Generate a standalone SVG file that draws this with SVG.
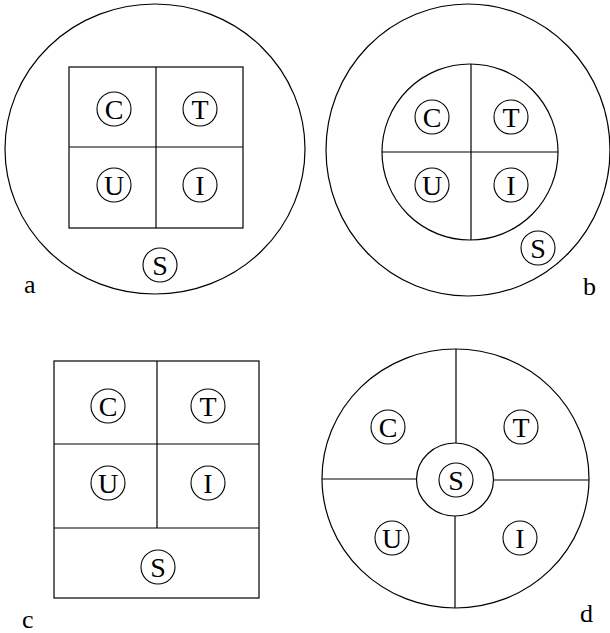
<svg xmlns="http://www.w3.org/2000/svg" width="610" height="633" viewBox="0 0 610 633">
<style>
.o{fill:none;stroke:#000;stroke-width:1.2}
.n{fill:#fff;stroke:#000;stroke-width:1.1}
.t{text-anchor:middle}
</style>
<rect width="610" height="633" fill="#fff"/>
<g font-family="Liberation Serif, DejaVu Serif, serif" font-size="28" fill="#000">
<g id="panel-a">
<ellipse class="o" cx="155" cy="149" rx="150" ry="145"/>
<rect class="o" x="69" y="67" width="174" height="161"/>
<g class="connectors"><line class="o" x1="156" y1="67" x2="156" y2="228"/><line class="o" x1="69" y1="147" x2="243" y2="147"/></g>
<g id="a-C"><circle class="n" cx="114" cy="109" r="17"/><text class="t" x="114" y="119">C</text></g>
<g id="a-T"><circle class="n" cx="200" cy="109" r="17"/><text class="t" x="200" y="119">T</text></g>
<g id="a-U"><circle class="n" cx="114" cy="185" r="17"/><text class="t" x="114" y="195">U</text></g>
<g id="a-I"><circle class="n" cx="200" cy="185" r="17"/><text class="t" x="200" y="195">I</text></g>
<g id="a-S"><circle class="n" cx="160" cy="265" r="17"/><text class="t" x="160" y="275">S</text></g>
<text x="24" y="293" font-size="26">a</text>
</g>
<g id="panel-b">
<ellipse class="o" cx="468" cy="150" rx="142" ry="146"/>
<circle class="o" cx="470" cy="152" r="88"/>
<g class="connectors"><line class="o" x1="471" y1="64" x2="471" y2="240"/><line class="o" x1="382" y1="152" x2="558" y2="152"/></g>
<g id="b-C"><circle class="n" cx="432" cy="117" r="17"/><text class="t" x="432" y="127">C</text></g>
<g id="b-T"><circle class="n" cx="511" cy="117" r="17"/><text class="t" x="511" y="127">T</text></g>
<g id="b-U"><circle class="n" cx="432" cy="185" r="17"/><text class="t" x="432" y="195">U</text></g>
<g id="b-I"><circle class="n" cx="511" cy="185" r="17"/><text class="t" x="511" y="195">I</text></g>
<g id="b-S"><circle class="n" cx="538" cy="248" r="17"/><text class="t" x="538" y="258">S</text></g>
<text x="583" y="295" font-size="26">b</text>
</g>
<g id="panel-c">
<rect class="o" x="54" y="361" width="205" height="237"/>
<g class="connectors"><line class="o" x1="157" y1="361" x2="157" y2="528"/><line class="o" x1="54" y1="444" x2="259" y2="444"/><line class="o" x1="54" y1="528" x2="259" y2="528"/></g>
<g id="c-C"><circle class="n" cx="108" cy="406" r="17"/><text class="t" x="108" y="416">C</text></g>
<g id="c-T"><circle class="n" cx="208" cy="406" r="17"/><text class="t" x="208" y="416">T</text></g>
<g id="c-U"><circle class="n" cx="108" cy="483" r="17"/><text class="t" x="108" y="493">U</text></g>
<g id="c-I"><circle class="n" cx="208" cy="483" r="17"/><text class="t" x="208" y="493">I</text></g>
<g id="c-S"><circle class="n" cx="158" cy="567" r="17"/><text class="t" x="158" y="577">S</text></g>
<text x="22" y="628" font-size="26">c</text>
</g>
<g id="panel-d">
<ellipse class="o" cx="455.5" cy="478.5" rx="133.5" ry="129.5"/>
<ellipse class="o" cx="455" cy="479.5" rx="38.5" ry="36.5"/>
<g class="connectors"><line class="o" x1="456" y1="349" x2="456" y2="443"/><line class="o" x1="455" y1="516" x2="455" y2="608"/><line class="o" x1="322" y1="479" x2="416.5" y2="479"/><line class="o" x1="493.5" y1="480" x2="589" y2="480"/></g>
<g id="d-C"><circle class="n" cx="388" cy="427" r="17"/><text class="t" x="388" y="437">C</text></g>
<g id="d-T"><circle class="n" cx="521" cy="427" r="17"/><text class="t" x="521" y="437">T</text></g>
<g id="d-S"><circle class="n" cx="456" cy="480" r="17"/><text class="t" x="456" y="490">S</text></g>
<g id="d-U"><circle class="n" cx="392" cy="538" r="17"/><text class="t" x="392" y="548">U</text></g>
<g id="d-I"><circle class="n" cx="520" cy="538" r="17"/><text class="t" x="520" y="548">I</text></g>
<text x="580" y="622" font-size="26">d</text>
</g>
</g>
</svg>
